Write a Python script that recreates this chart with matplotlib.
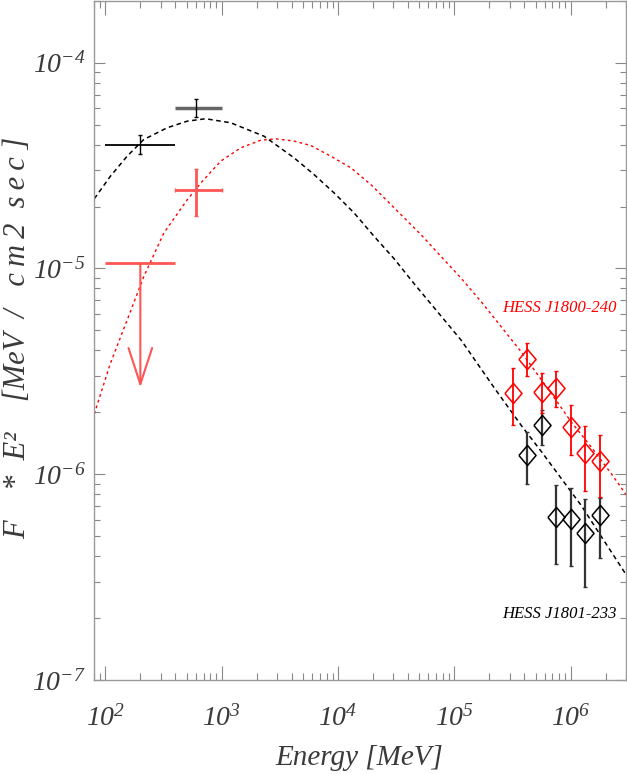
import numpy as np
import matplotlib
matplotlib.use('Agg')
import matplotlib.pyplot as plt
from matplotlib.ticker import FuncFormatter, NullFormatter, LogLocator

plt.rcParams['font.family'] = ['Liberation Serif', 'DejaVu Serif']
plt.rcParams['font.style'] = 'italic'
plt.rcParams['mathtext.fontset'] = 'custom'
plt.rcParams['mathtext.rm'] = 'Liberation Serif:italic'
plt.rcParams['mathtext.it'] = 'Liberation Serif:italic'

## Fermi points (MeV, MeV/cm2/s)
fermi_e = [200, 600]
fermi_elo = [100, 400]
fermi_ehi = [400, 1000]
j1801_lat = [4.0e-5, 6.05e-5]
j1801_lat_lo = [3.6e-5, 5.43e-5]
j1801_lat_hi = [4.45e-5, 6.67e-5]
j1800_ul_e = 200
j1800_ul = 1.06e-5
j1800_ul_tip = 2.64e-6
j1800_lat_e = 600
j1800_lat = 2.4e-5
j1800_lat_lo = 1.79e-5
j1800_lat_hi = 3.03e-5

## HESS points
hess_e_red = [3.2e5, 4.26e5, 5.66e5, 7.57e5, 1.01e6, 1.34e6, 1.80e6]
hess_red = [2.48e-6, 3.65e-6, 2.5e-6, 2.63e-6, 1.69e-6, 1.27e-6, 1.16e-6]
hess_red_hi = [3.3e-6, 4.36e-6, 3.12e-6, 3.16e-6, 2.18e-6, 1.71e-6, 1.55e-6]
hess_red_lo = [1.73e-6, 2.99e-6, 1.98e-6, 2.12e-6, 1.24e-6, 8.28e-7, 7.77e-7]
hess_e_blk = [4.26e5, 5.66e5, 7.57e5, 1.01e6, 1.34e6, 1.80e6]
hess_blk = [1.24e-6, 1.73e-6, 6.22e-7, 6.08e-7, 5.18e-7, 6.32e-7]
hess_blk_hi = [1.6e-6, 2.06e-6, 8.86e-7, 8.57e-7, 7.59e-7, 7.65e-7]
hess_blk_lo = [8.96e-7, 1.39e-6, 3.67e-7, 3.58e-7, 2.83e-7, 3.93e-7]

## model curves
blk_model_e = [80.4, 110.4, 153.9, 213.9, 340.4, 506.2, 727.9, 1196, 2316, 4201,
               6247, 9292, 1.382e4, 2.056e4, 3.057e4, 4.548e4, 6.765e4, 1.149e5,
               2.226e5, 3.781e5, 5.623e5, 8.363e5, 1.244e6, 1.851e6, 3.145e6]
blk_model_f = [2.183e-5, 2.805e-5, 3.511e-5, 4.234e-5, 4.83e-5, 5.20e-5, 5.343e-5,
               5.108e-5, 4.394e-5, 3.448e-5, 2.858e-5, 2.327e-5, 1.859e-5, 1.429e-5,
               1.112e-5, 8.40e-6, 6.416e-6, 4.479e-6, 2.614e-6, 1.724e-6, 1.288e-6,
               9.51e-7, 7.02e-7, 4.955e-7, 3.127e-7]
red_model_e = [80.4, 110.4, 153.9, 213.9, 318.1, 506.2, 681.6, 980.4, 1458, 2169,
               2921, 4201, 5852, 8703, 1.295e4, 1.925e4, 3.493e4, 5.195e4, 7.727e4,
               1.149e5, 1.709e5, 2.542e5, 3.781e5, 6.859e5, 1.02e6, 1.517e6, 2.256e6,
               3.145e6]
red_model_f = [1.966e-6, 3.448e-6, 5.608e-6, 9.12e-6, 1.485e-5, 2.158e-5, 2.651e-5,
               3.319e-5, 3.857e-5, 4.201e-5, 4.267e-5, 4.16e-5, 3.959e-5, 3.511e-5,
               3.082e-5, 2.554e-5, 1.824e-5, 1.457e-5, 1.142e-5, 8.96e-6, 6.887e-6,
               5.20e-6, 3.927e-6, 2.461e-6, 1.789e-6, 1.351e-6, 1.002e-6, 7.68e-7]

fig = plt.figure(figsize=(6.27, 7.74), dpi=100)
ax = fig.add_axes([0.150, 0.1214, 0.8484, 0.8776])
ax.set_xscale('log')
ax.set_yscale('log')
ax.set_xlim(80, 3.0e6)
ax.set_ylim(1e-7, 2e-4)

# models
ax.plot(blk_model_e, blk_model_f, color='black', lw=1.1, dashes=(3, 2.3))
ax.plot(red_model_e, red_model_f, color='red', lw=1.0, dashes=(2.0, 2.3))

# Fermi
def asym(v, lo, hi):
    v, lo, hi = np.atleast_1d(v), np.atleast_1d(lo), np.atleast_1d(hi)
    return [v - lo, hi - v]

ax.errorbar(fermi_e[0], j1801_lat[0], xerr=asym(fermi_e[0], fermi_elo[0], fermi_ehi[0]),
            fmt='none', ecolor='black', elinewidth=1.3)
ax.errorbar(fermi_e[1], j1801_lat[1], xerr=asym(fermi_e[1], fermi_elo[1], fermi_ehi[1]),
            fmt='none', ecolor='#666666', elinewidth=2.5)
ax.errorbar(fermi_e, j1801_lat, yerr=asym(j1801_lat, j1801_lat_lo, j1801_lat_hi),
            fmt='none', ecolor='black', elinewidth=1.0, capsize=1.5)

ax.errorbar(j1800_ul_e, j1800_ul, xerr=asym(j1800_ul_e, fermi_elo[0], fermi_ehi[0]),
            fmt='none', ecolor='#ff5555', elinewidth=2)
ax.annotate('', xy=(j1800_ul_e, j1800_ul_tip), xytext=(j1800_ul_e, j1800_ul),
            arrowprops=dict(arrowstyle='->,head_length=2.6,head_width=0.85',
                            color='#ff5555', lw=1.5, mutation_scale=10,
                            shrinkA=0, shrinkB=0))
ax.errorbar(j1800_lat_e, j1800_lat, xerr=asym(j1800_lat_e, fermi_elo[1], fermi_ehi[1]),
            yerr=asym(j1800_lat, j1800_lat_lo, j1800_lat_hi),
            fmt='none', ecolor='#ff5555', elinewidth=2, capsize=1.5)

# HESS
diamond = [(-0.85, 0), (0, 1), (0.85, 0), (0, -1), (-0.85, 0)]
ax.errorbar(hess_e_blk, hess_blk, yerr=asym(hess_blk, hess_blk_lo, hess_blk_hi),
            fmt='none', ecolor='#333333', elinewidth=1.6, capsize=1.5)
ax.plot(hess_e_blk, hess_blk, ls='none', marker=diamond, ms=14.5,
        mfc='none', mec='black', mew=1.1)
ax.errorbar(hess_e_red, hess_red, yerr=asym(hess_red, hess_red_lo, hess_red_hi),
            fmt='none', ecolor='red', elinewidth=1.3, capsize=1.5)
ax.plot(hess_e_red, hess_red, ls='none', marker=diamond, ms=14.5,
        mfc='none', mec='red', mew=1.1)

ax.text(2.5e6, 6.4e-6, 'HESS J1800-240', color='red', fontsize=12,
        ha='right', va='center')
ax.text(2.5e6, 2.09e-7, 'HESS J1801-233', color='black', fontsize=12,
        ha='right', va='center')

# axes styling
fmt = FuncFormatter(lambda v, p: r'$10^{%d}$' % int(round(np.log10(v))))
ax.xaxis.set_major_formatter(fmt)
ax.yaxis.set_major_formatter(fmt)
ax.xaxis.set_minor_locator(LogLocator(subs=np.arange(2, 10)))
ax.yaxis.set_minor_locator(LogLocator(subs=np.arange(2, 10)))
ax.xaxis.set_minor_formatter(NullFormatter())
ax.yaxis.set_minor_formatter(NullFormatter())
for s in ax.spines.values():
    s.set_color('#999999')
    s.set_linewidth(1.0)
ax.tick_params(which='both', direction='in', top=True, right=True,
               color='#888888', width=0.8, labelcolor='#3a3a3a', labelsize=20)
ax.tick_params(axis='x', which='major', length=10, pad=18)
ax.tick_params(axis='x', which='minor', length=5)
ax.tick_params(axis='y', which='major', length=8, pad=6)
ax.tick_params(axis='y', which='minor', length=4.5)

ax.set_xlabel('Energy [MeV]', fontsize=21, color='#3a3a3a')
ax.xaxis.set_label_coords(0.498, -0.096)
ax.set_ylabel('F    *  E\u00b2    [MeV  /   c\u2009m\u20092  s\u2009e\u2009c ]',
              fontsize=22, color='#3a3a3a')
ax.yaxis.set_label_coords(-0.116, 0.504)

fig.savefig('out.png', dpi=100)
